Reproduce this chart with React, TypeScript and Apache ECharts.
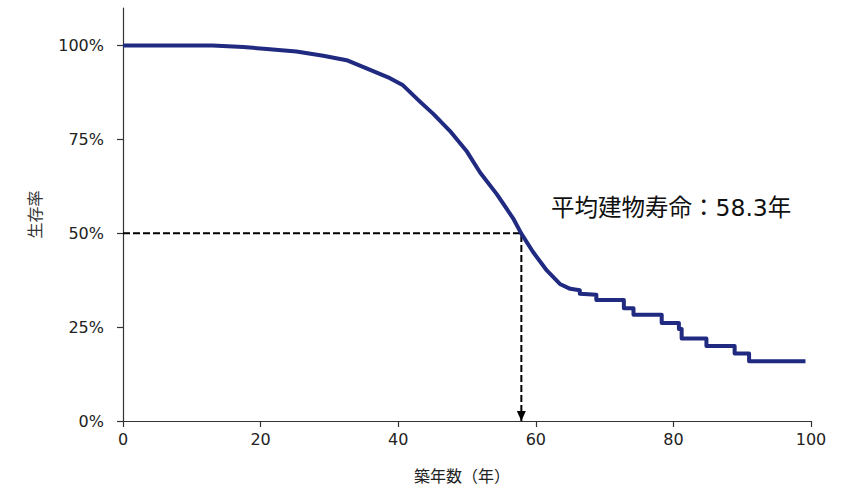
import React, { useEffect, useRef } from "react";
import * as echarts from "echarts";

// Survival curve (years since construction, survival rate)
const years = [0, 13, 17.5, 20.9, 25.2, 29.1, 32.5, 35.4, 38.8, 40.7, 43.2, 45.1, 47.5, 49.9, 51.9, 54.3, 56.7, 57.9, 59.6, 61.6, 63.5, 65.0, 66.4, 66.4, 68.8, 68.8, 72.8, 72.8, 74.2, 74.2, 78.3, 78.3, 80.8, 80.8, 81.2, 81.2, 84.8, 84.8, 88.9, 88.9, 91.0, 91.0, 99.2];
const survival = [1.0, 1.0, 0.996, 0.991, 0.984, 0.973, 0.961, 0.939, 0.913, 0.894, 0.85, 0.818, 0.773, 0.72, 0.662, 0.605, 0.54, 0.499, 0.45, 0.401, 0.365, 0.352, 0.348, 0.339, 0.336, 0.322, 0.322, 0.3, 0.3, 0.283, 0.283, 0.261, 0.261, 0.245, 0.245, 0.22, 0.22, 0.2, 0.2, 0.18, 0.18, 0.159, 0.159];

const medianYear = 57.9;
const medianRate = 0.5;

const xTicks = [0, 20, 40, 60, 80, 100];
const yTicks = [0, 0.25, 0.5, 0.75, 1.0];

const xName = "築年数（年）";
const yName = "生存率";
const annotation = "平均建物寿命：58.3年";

export default function App() {
  const ref = useRef<HTMLDivElement>(null);

  useEffect(() => {
    if (!ref.current) return;
    const chart = echarts.init(ref.current, undefined, { renderer: "svg" });
    const curve = years.map((t, i) => [t, survival[i]]);
    const guide = [
      { value: [0, medianRate], symbol: "none" },
      { value: [medianYear, medianRate], symbol: "none" },
      {
        value: [medianYear, 0],
        symbol: "triangle",
        symbolRotate: 180,
        symbolSize: [9, 10],
        symbolOffset: [0, -5],
      },
    ];
    const latin = "'DejaVu Sans', 'Noto Sans CJK JP', sans-serif";
    chart.setOption({
      animation: false,
      grid: { left: 123, right: 32, top: 8, bottom: 66, containLabel: false },
      xAxis: {
        type: "value",
        min: 0,
        max: 100,
        interval: 20,
        name: xName,
        nameLocation: "middle",
        nameGap: 46,
        nameTextStyle: {
          fontFamily: "'Noto Sans CJK JP', sans-serif",
          fontSize: 16,
          color: "#222",
          padding: [0, 10, 0, 0],
        },
        axisLine: { lineStyle: { color: "#333", width: 1.2 } },
        axisTick: { customValues: xTicks, length: 6, lineStyle: { color: "#333", width: 1.2 } },
        axisLabel: {
          customValues: xTicks,
          margin: 10,
          fontFamily: latin,
          fontSize: 16,
          color: "#222",
        },
        splitLine: { show: false },
      },
      yAxis: {
        type: "value",
        min: 0,
        max: 1.1,
        interval: 0.25,
        name: yName,
        nameLocation: "middle",
        nameRotate: 90,
        nameGap: 81,
        nameTextStyle: {
          fontFamily: "'Noto Sans CJK JP', sans-serif",
          fontSize: 16,
          color: "#333",
        },
        axisLine: { show: true, lineStyle: { color: "#333", width: 1.2 } },
        axisTick: { show: true, customValues: yTicks, length: 6, lineStyle: { color: "#333", width: 1.2 } },
        axisLabel: {
          customValues: yTicks,
          margin: 19,
          fontFamily: latin,
          fontSize: 16,
          color: "#222",
          formatter: (v: number) => Math.round(v * 100) + "%",
        },
        splitLine: { show: false },
      },
      graphic: [
        {
          type: "text",
          left: 551,
          top: 196,
          style: {
            text: annotation,
            fontFamily: latin,
            fontSize: 23.5,
            fill: "#111",
          },
        },
      ],
      series: [
        {
          type: "line",
          data: guide,
          symbol: "none",
          lineStyle: { color: "#000", width: 2, type: [7, 3] },
          itemStyle: { color: "#000" },
          z: 2,
          silent: true,
        },
        {
          type: "line",
          data: curve,
          showSymbol: false,
          symbol: "none",
          lineStyle: { color: "#1f2a80", width: 4, join: "round" },
          z: 3,
          silent: true,
        },
      ],
    });
    return () => chart.dispose();
  }, []);

  return (
    <div
      ref={ref}
      style={{ position: "absolute", left: 0, top: 0, width: 843, height: 488 }}
    />
  );
}
